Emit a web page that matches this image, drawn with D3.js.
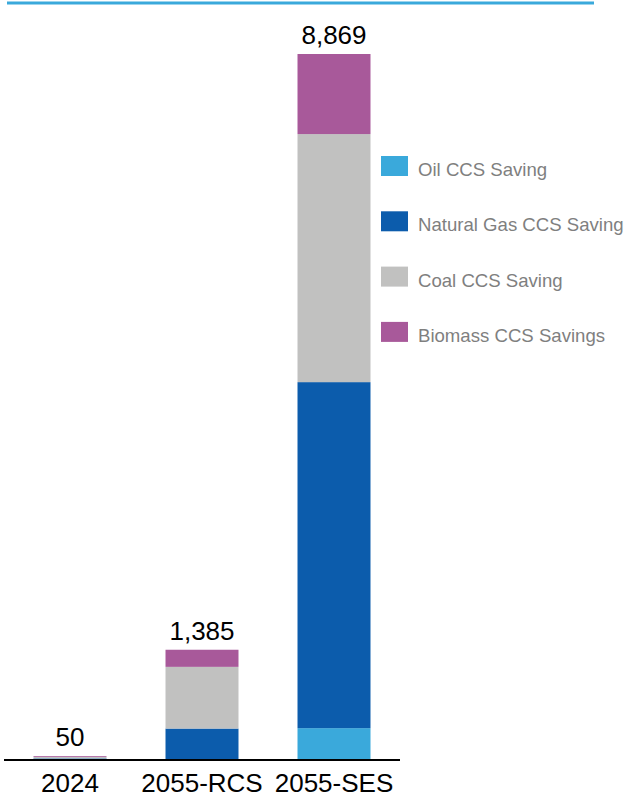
<!DOCTYPE html>
<html>
<head>
<meta charset="utf-8">
<script src="https://cdn.jsdelivr.net/npm/d3@7"></script>
<style>
  html, body { margin: 0; padding: 0; background: #ffffff; }
  svg { display: block; font-family: "Liberation Sans", Arial, sans-serif; }
</style>
</head>
<body>
<svg id="chart" width="625" height="798"></svg>
<script>
const categories = ["2024", "2055-RCS", "2055-SES"];
const seriesNames = ["Oil CCS Saving", "Natural Gas CCS Saving", "Coal CCS Saving", "Biomass CCS Savings"];
const oilValues = [5, 0, 400];
const gasValues = [15, 395, 4347];
const coalValues = [20, 775, 3116];
const biomassValues = [10, 215, 1006];
const totalLabels = ["50", "1,385", "8,869"];
const colors = ["#3aa9db", "#0c5cac", "#c1c1c0", "#a8599a"];

const seriesValues = [oilValues, gasValues, coalValues, biomassValues];
const rows = categories.map((c, i) => {
  const r = { category: c };
  seriesNames.forEach((s, j) => { r[s] = seriesValues[j][i]; });
  return r;
});
const totals = categories.map((c, i) => seriesValues.reduce((a, v) => a + v[i], 0));

const svg = d3.select("#chart");

const x = d3.scaleBand()
  .domain(categories)
  .range([4, 400])
  .paddingInner(0.447)
  .paddingOuter(0.2235);

const y = d3.scaleLinear()
  .domain([0, d3.max(totals)])
  .range([760, 54]);

const stack = d3.stack().keys(seriesNames);
const stacked = stack(rows);

// top decorative line
svg.append("line")
  .attr("x1", 7).attr("x2", 594)
  .attr("y1", 3).attr("y2", 3)
  .attr("stroke", "#3aa9db")
  .attr("stroke-width", 3);

svg.append("g")
  .selectAll("g")
  .data(stacked)
  .join("g")
  .attr("fill", (d, i) => colors[i])
  .selectAll("rect")
  .data(d => d)
  .join("rect")
  .attr("x", d => x(d.data.category))
  .attr("width", x.bandwidth())
  .attr("y", d => y(d[1]))
  .attr("height", d => Math.max(0, y(d[0]) - y(d[1])));

// total labels
svg.append("g")
  .selectAll("text")
  .data(categories)
  .join("text")
  .attr("x", d => x(d) + x.bandwidth() / 2)
  .attr("y", (d, i) => y(totals[i]) - 10)
  .attr("text-anchor", "middle")
  .attr("font-size", 26)
  .attr("fill", "#000")
  .text((d, i) => totalLabels[i]);

// x axis
const xAxis = d3.axisBottom(x).tickSize(0).tickPadding(0);
const gx = svg.append("g")
  .attr("transform", "translate(0,760)")
  .call(xAxis);
gx.select(".domain").remove();
gx.append("line")
  .attr("x1", 4).attr("x2", 400)
  .attr("y1", 0).attr("y2", 0)
  .attr("stroke", "#000")
  .attr("stroke-width", 2);
gx.selectAll(".tick text")
  .attr("font-family", "Liberation Sans, Arial, sans-serif")
  .attr("font-size", 26)
  .attr("fill", "#000")
  .attr("dy", null)
  .attr("y", 32);

// legend
const legend = svg.append("g").attr("transform", "translate(381,156)");
const li = legend.selectAll("g")
  .data(seriesNames)
  .join("g")
  .attr("transform", (d, i) => `translate(0,${i * 55.3})`);
li.append("rect")
  .attr("width", 27).attr("height", 20)
  .attr("fill", (d, i) => colors[i]);
li.append("text")
  .attr("x", 37).attr("y", 20)
  .attr("font-size", 18.6)
  .attr("fill", "#7f7f7f")
  .text(d => d);
</script>
</body>
</html>
